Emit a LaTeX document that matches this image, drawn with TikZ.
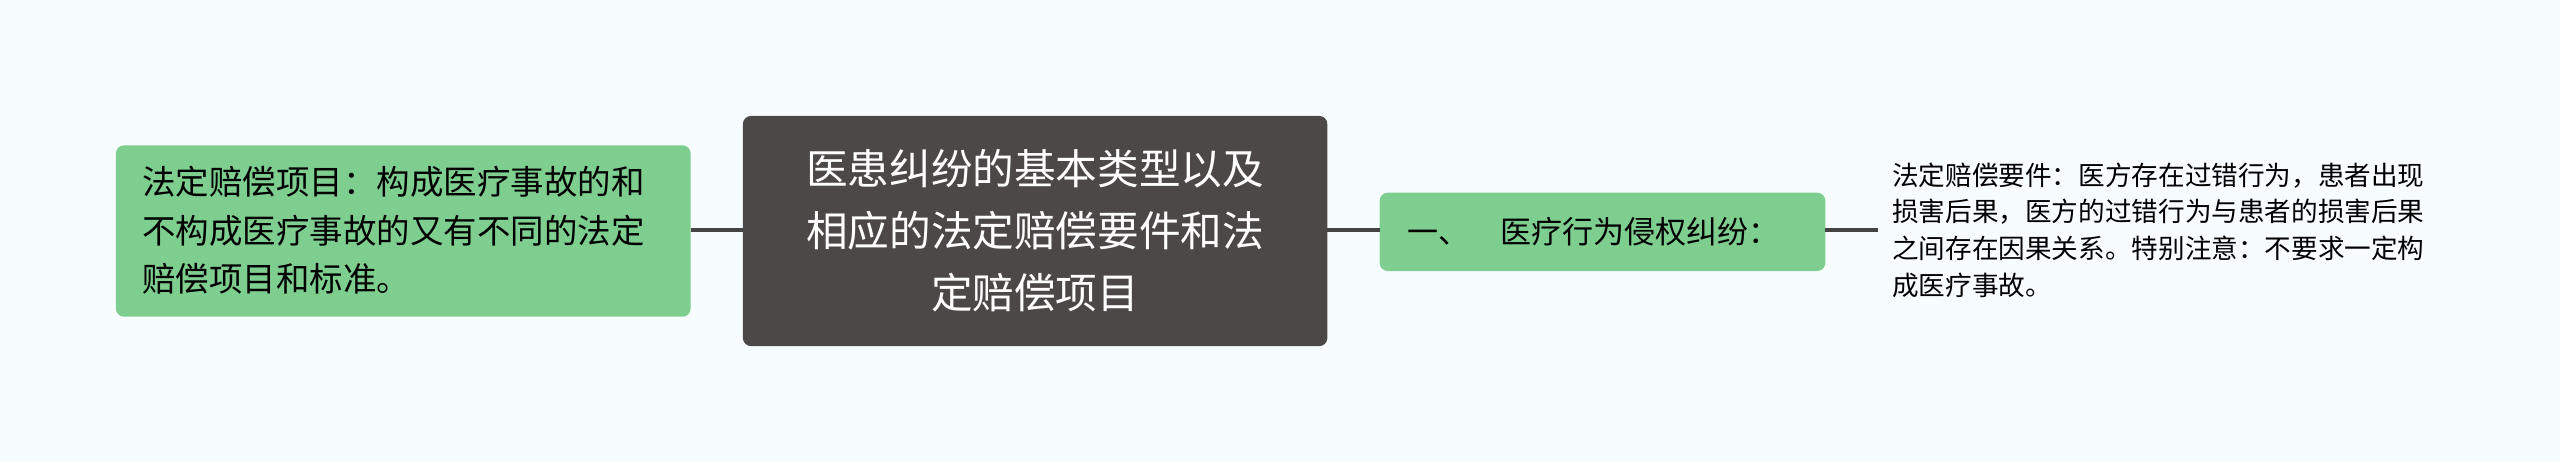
\documentclass[tikz,border=0pt]{standalone}
\usepackage{fontspec}
\setmainfont{Noto Sans CJK SC}
\definecolor{bg}{HTML}{F7FDFE}
\definecolor{gr}{HTML}{7ECE8F}
\definecolor{dk}{HTML}{4D4848}
\definecolor{ln}{HTML}{444444}
\tikzset{
 box/.style={rounded corners=5pt,inner sep=0pt},
 conn/.style={draw=ln,line width=2.5pt}
}
\begin{document}
\begin{tikzpicture}[x=1pt,y=-1pt]
\fill[bg] (0,0) rectangle (1568,283);
\useasboundingbox (0,0) rectangle (1568,283);
\fill[gr,box] (71,89) rectangle (423,194);
\node[align=left,font=\fontsize{20.5}{30}\selectfont,inner sep=0pt] (l) at (241,141) {法定赔偿项目：构成医疗事故的和\\不构成医疗事故的又有不同的法定\\赔偿项目和标准。};
\fill[dk,box] (455,71) rectangle (813,212);
\node[align=center,text=white,font=\fontsize{25.5}{38}\selectfont,inner sep=0pt] (c) at (634,141) {医患纠纷的基本类型以及\\相应的法定赔偿要件和法\\定赔偿项目};
\fill[gr,box] (845,118) rectangle (1118,166);
\node[font=\fontsize{19}{22}\selectfont,inner sep=0pt] (r) at (976,142) {一、\quad 医疗行为侵权纠纷：};
\node[align=left,font=\fontsize{16.3}{22.5}\selectfont,inner sep=0pt] (t) at (1322,141) {法定赔偿要件：医方存在过错行为，患者出现\\损害后果，医方的过错行为与患者的损害后果\\之间存在因果关系。特别注意：不要求一定构\\成医疗事故。};
\coordinate (a1) at (423,141); \coordinate (a2) at (455,141);
\coordinate (b1) at (813,141); \coordinate (b2) at (845,141);
\coordinate (c1) at (1118,141); \coordinate (c2) at (1150,141);
\draw[conn] (a1) -- (a2); \draw[conn] (b1) -- (b2); \draw[conn] (c1) -- (c2);
\end{tikzpicture}
\end{document}
